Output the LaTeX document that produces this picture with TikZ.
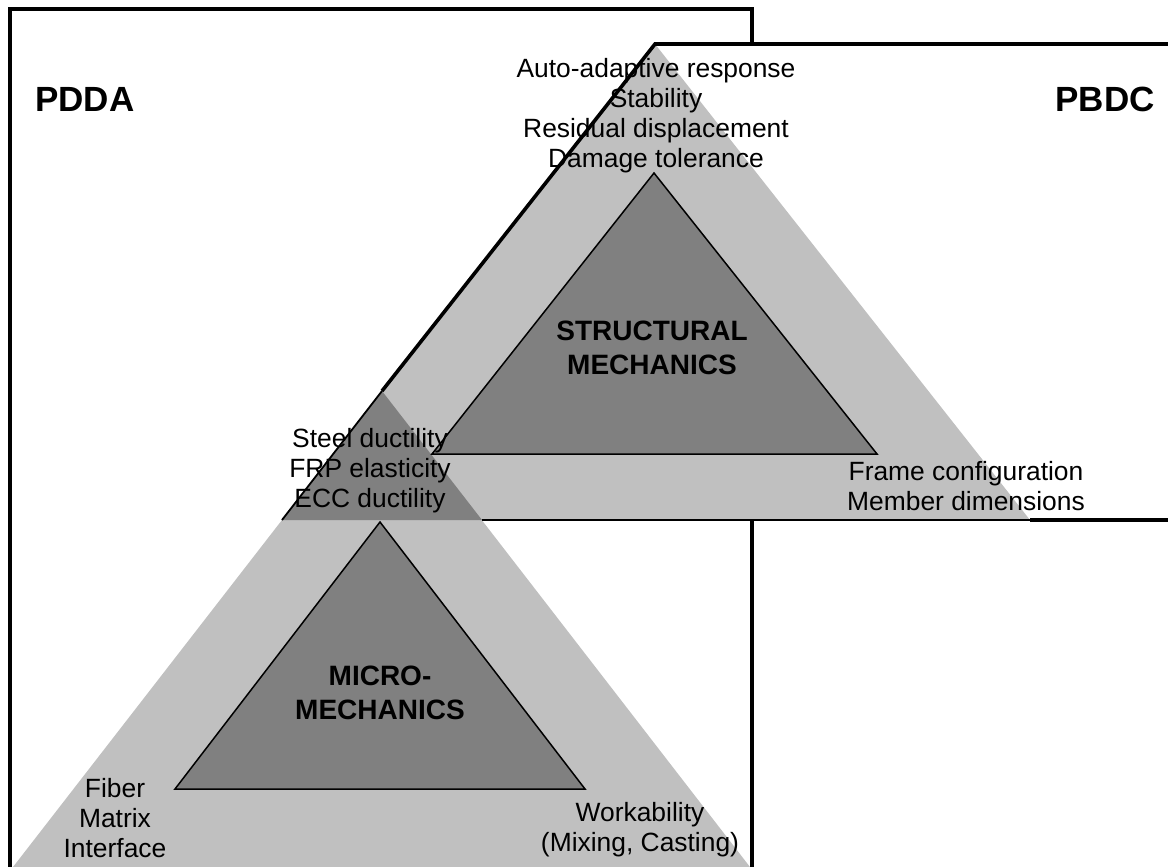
\documentclass[tikz,border=0pt]{standalone}
\usepackage{fontspec}
\setmainfont{Liberation Sans}
\definecolor{lightg}{HTML}{C0C0C0}
\definecolor{darkg}{HTML}{808080}
\begin{document}
\begin{tikzpicture}[x=1pt,y=-1pt,
  frame/.style={line width=3.6pt, line join=miter},
  thinline/.style={line width=1.8pt},
  innertri/.style={fill=darkg, draw=black, line width=1.5pt, line join=miter},
  txt/.style={font=\fontsize{26.4}{30}\selectfont, align=center, anchor=base, inner sep=0pt},
  boldtxt/.style={font=\fontsize{28}{34}\selectfont\bfseries, align=center, anchor=base, inner sep=0pt},
  title/.style={font=\fontsize{35}{40}\selectfont\bfseries, inner sep=0pt}]
\useasboundingbox (0,0) rectangle (1168,867);
\clip (0,0) rectangle (1168,867);
% key points
\coordinate (A)  at (655,44);   % apex of upper outer triangle
\coordinate (UL) at (282,520);
\coordinate (UR) at (1030,520);
\coordinate (B)  at (382,391);  % apex of lower outer triangle
\coordinate (LL) at (13,867);
\coordinate (LR) at (750,867);
\coordinate (OR) at (482,520);
\coordinate (PTR) at (1185,44);
\coordinate (PBR) at (1185,520);
% PDDA frame
\draw[frame] (10,885) -- (10,9) -- (752,9) -- (752,885);
% PBDC area (white, covers PDDA frame)
\fill[white] (UL) -- (A) -- (PTR) -- (PBR) -- cycle;
% outer triangles
\fill[lightg] (A) -- (UL) -- (UR) -- cycle;
\fill[lightg] (B) -- (LL) -- (LR) -- cycle;
\fill[darkg] (B) -- (UL) -- (OR) -- cycle;
% inner triangles
\filldraw[innertri] (654,173) -- (432,454) -- (877,454) -- cycle;
\filldraw[innertri] (380,522) -- (175,789) -- (585,789) -- cycle;
% PBDC outline
\draw[thinline] (B) -- (UL);
\draw[thinline] (OR) -- (UR);
\draw[frame] (UR) -- (PBR);
\draw[frame] (B) -- (A) -- (PTR);
% texts (base anchor = baseline of the last line)
\node[title, anchor=base west] (pdda) at (35,111) {PDDA};
\node[title, anchor=base east] (pbdc) at (1155,111) {PBDC};
\node[txt] (top) at (656,167) {Auto-adaptive response\\Stability\\Residual displacement\\Damage tolerance};
\node[boldtxt] (sm) at (652,374) {STRUCTURAL\\MECHANICS};
\node[txt] (mid) at (370,507) {Steel ductility\\FRP elasticity\\ECC ductility};
\node[txt] (frame) at (966,510) {Frame configuration\\Member dimensions};
\node[boldtxt] (mm) at (380,719) {MICRO-\\MECHANICS};
\node[txt] (fib) at (115,857) {Fiber\\Matrix\\Interface};
\node[txt] (work) at (640,851) {Workability\\(Mixing, Casting)};
\end{tikzpicture}
\end{document}
